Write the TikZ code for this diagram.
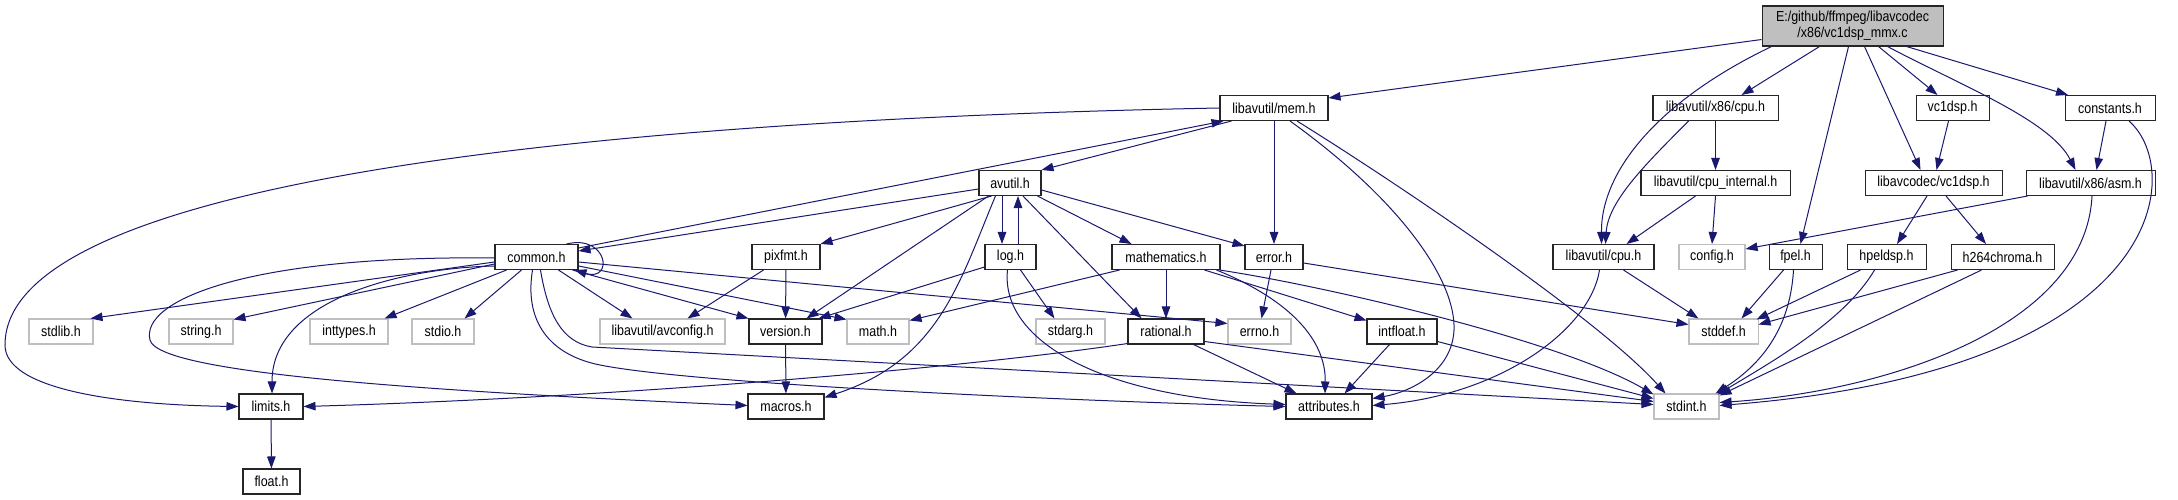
\documentclass[tikz,border=0pt]{standalone}
\usepackage{fontspec}
\setmainfont{Liberation Sans}[FakeStretch=0.86]
\usetikzlibrary{arrows.meta,calc}
\definecolor{edgeblue}{RGB}{25,25,112}
\definecolor{grayline}{RGB}{191,191,191}
\definecolor{rootfill}{RGB}{191,191,191}
\tikzset{
  box/.style={draw=black!85, fill=white, line width=1.05pt, minimum height=25pt, inner sep=0pt,
    font=\fontsize{14.5}{16}\selectfont},
  gbox/.style={box, draw=grayline},
  rootbox/.style={box, fill=rootfill, minimum height=40pt, align=center},
  dep/.style={draw=edgeblue, line width=1pt, -{Triangle[length=12pt,width=8.5pt]}}
}
\begin{document}
\begin{tikzpicture}[x=1pt,y=-1pt]
\fill[white] (0,0) rectangle (2178,500);
\useasboundingbox (0,0) rectangle (2178,500);
% row 0
\node[rootbox,minimum width=181] (root) at (1852.5,26) {E:/github/ffmpeg/libavcodec\\/x86/vc1dsp\_mmx.c};
% row 1
\node[box,minimum width=108] (mem) at (1274,108) {libavutil/mem.h};
\node[box,minimum width=125] (x86cpu) at (1715.5,108) {libavutil/x86/cpu.h};
\node[box,minimum width=73] (vcdsp) at (1952.5,108) {vc1dsp.h};
\node[box,minimum width=90] (constants) at (2110,108) {constants.h};
% row 2
\node[box,minimum width=62] (avutil) at (1010,183) {avutil.h};
\node[box,minimum width=149] (cpuint) at (1715.5,183) {libavutil/cpu\_internal.h};
\node[box,minimum width=137] (lavcvc) at (1933.5,183) {libavcodec/vc1dsp.h};
\node[box,minimum width=129] (asm) at (2090.5,183) {libavutil/x86/asm.h};
% row 3
\node[box,minimum width=83] (common) at (536.5,257) {common.h};
\node[box,minimum width=68] (pixfmt) at (786,257) {pixfmt.h};
\node[box,minimum width=51] (log) at (1010.5,257) {log.h};
\node[box,minimum width=108] (mathematics) at (1166,257) {mathematics.h};
\node[box,minimum width=58] (error) at (1274,257) {error.h};
\node[box,minimum width=101] (cpu) at (1603.5,257) {libavutil/cpu.h};
\node[gbox,minimum width=66] (config) at (1712,257) {config.h};
\node[box,minimum width=53] (fpel) at (1795.5,257) {fpel.h};
\node[box,minimum width=79] (hpeldsp) at (1886.5,257) {hpeldsp.h};
\node[box,minimum width=103] (h264) at (2002.5,257) {h264chroma.h};
% row 4
\node[gbox,minimum width=64] (stdlib) at (61,331.5) {stdlib.h};
\node[gbox,minimum width=64] (string) at (201,331.5) {string.h};
\node[gbox,minimum width=78] (inttypes) at (349,331.5) {inttypes.h};
\node[gbox,minimum width=62] (stdio) at (443,331.5) {stdio.h};
\node[gbox,minimum width=125] (avconfig) at (662.5,331.5) {libavutil/avconfig.h};
\node[box,minimum width=73] (version) at (785.5,331.5) {version.h};
\node[gbox,minimum width=62] (math) at (878,331.5) {math.h};
\node[gbox,minimum width=69] (stdarg) at (1070.5,331.5) {stdarg.h};
\node[box,minimum width=76] (rational) at (1166,331.5) {rational.h};
\node[gbox,minimum width=63] (errno) at (1259.5,331.5) {errno.h};
\node[box,minimum width=70] (intfloat) at (1402,331.5) {intfloat.h};
\node[gbox,minimum width=69] (stddef) at (1723.5,331.5) {stddef.h};
% row 5
\node[box,minimum width=64] (limits) at (271,406.5) {limits.h};
\node[box,minimum width=76] (macros) at (786,406.5) {macros.h};
\node[box,minimum width=86] (attributes) at (1329,406.5) {attributes.h};
\node[gbox,minimum width=65] (stdint) at (1686.5,406.5) {stdint.h};
% row 6
\node[box,minimum width=57] (float) at (271.5,481.5) {float.h};

% ---- edges from root
\draw[dep] ($(root.south west)+(0,-7)$) -- ($(mem.north east)+(0,3)$);
\draw[dep] ($(root.south west)+(10,0)$) .. controls (1660,100) and (1601,170) .. ($(cpu.north)+(-2,0)$);
\draw[dep] ($(root.south)+(-33,0)$) -- ($(x86cpu.north east)+(-37,0)$);
\draw[dep] ($(root.south)+(-4,0)$) -- ($(fpel.north)+(5,0)$);
\draw[dep] ($(root.south)+(12,0)$) -- ($(lavcvc.north)+(-13,0)$);
\draw[dep] ($(root.south)+(26,0)$) -- ($(vcdsp.north)+(-15,0)$);
\draw[dep] ($(root.south)+(35,0)$) .. controls (1960,85) and (2050,120) .. ($(asm.north)+(-15,0)$);
\draw[dep] ($(root.south)+(54,0)$) -- ($(constants.north)+(-42,0)$);
% ---- right part
\draw[dep] (x86cpu) -- (cpuint);
\draw[dep] ($(x86cpu.south)+(-27,0)$) .. controls (1650,160) and (1608,200) .. ($(cpu.north)+(2,0)$);
\draw[dep] ($(cpuint.south)+(-20,0)$) -- ($(cpu.north east)+(-28,0)$);
\draw[dep] (cpuint.south) -- (config.north);
\draw[dep] ($(vcdsp.south)+(-4,0)$) -- ($(lavcvc.north)+(3,0)$);
\draw[dep] ($(constants.south)+(-4,0)$) -- ($(asm.north)+(6,0)$);
\draw[dep] ($(constants.south)+(19,0)$) .. controls (2185,170) and (2170,370) .. ($(stdint.east)+(0,-1)$);
\draw[dep] ($(asm.south west)+(2,0)$) -- ($(config.east)+(0,-8)$);
\draw[dep] ($(asm.south)+(1.5,0)$) .. controls (2085,330) and (1880,392) .. ($(stdint.east)+(0,-4)$);
\draw[dep] ($(lavcvc.south)+(-6.5,0)$) -- ($(hpeldsp.north)+(10.5,0)$);
\draw[dep] ($(lavcvc.south)+(12.5,0)$) -- ($(h264.north)+(-16.5,0)$);
\draw[dep] ($(cpu.south)+(20,0)$) -- ($(stddef.north west)+(10,0)$);
\draw[dep] ($(cpu.south)+(-4,0)$) .. controls (1590,330) and (1500,395) .. ($(attributes.east)+(0,-1)$);
\draw[dep] ($(fpel.south)+(-12,0)$) -- ($(stddef.north east)+(-17,0)$);
\draw[dep] ($(fpel.south)+(-2,0)$) .. controls (1790,330) and (1760,365) .. ($(stdint.north east)+(-4,0)$);
\draw[dep] ($(hpeldsp.south)+(-26,0)$) -- ($(stddef.north east)+(-2,1)$);
\draw[dep] ($(hpeldsp.south)+(-12,0)$) .. controls (1845,320) and (1775,360) .. ($(stdint.north east)+(-2,1)$);
\draw[dep] ($(h264.south west)+(7,0)$) -- ($(stddef.east)+(0,-7)$);
\draw[dep] ($(h264.south)+(-21,0)$) -- ($(stdint.north east)+(0,2)$);
% ---- mem
\draw[dep] ($(mem.south west)+(12,0)$) -- (avutil.north east);
\draw[dep] (mem) -- (error);
\draw[dep] ($(mem.south)+(16,0)$) .. controls (1400,200) and (1456,280) .. (1454,330) .. controls (1452,372) and (1410,392) .. ($(attributes.east)+(0,-8)$);
\draw[dep] ($(mem.south)+(23,0)$) .. controls (1400,185) and (1600,320) .. ($(stdint.north west)+(12,0)$);
\draw[dep] (mem.west) .. controls (600,120) and (5,180) .. (5,345) .. controls (5,390) and (120,405) .. (limits.west);
% ---- common
\draw[dep] ($(common.east)+(0,-9)$) -- ($(mem.south west)+(4,0)$);
\draw[dep] ($(avutil.west)+(0,6)$) -- ($(common.east)+(0,-6)$);
\draw[dep] ($(common.north east)+(-12,0)$) .. controls (608,234) and (614,282) .. ($(common.south east)+(-4,0)$);
\draw[dep] ($(common.west)+(0,5)$) -- ($(stdlib.north east)+(-3,0)$);
\draw[dep] ($(common.west)+(0,7)$) -- ($(string.north east)+(0,1)$);
\draw[dep] ($(common.west)+(0,9)$) .. controls (400,268) and (272,300) .. ($(limits.north)+(1,0)$);
\draw[dep] ($(common.west)+(0,1)$) .. controls (250,255) and (140,300) .. (150,340) .. controls (158,372) and (400,390) .. ($(macros.west)+(0,-1)$);
\draw[dep] ($(common.south west)+(12,0)$) -- ($(inttypes.north east)+(-4,0)$);
\draw[dep] ($(common.south west)+(27,0)$) -- ($(stdio.north east)+(-10,0)$);
\draw[dep] ($(common.south)+(22,0)$) -- ($(avconfig.north west)+(33,0)$);
\draw[dep] ($(common.south east)+(-6,0)$) -- (version.north west);
\draw[dep] ($(common.east)+(0,9)$) -- ($(math.north west)+(0,1)$);
\draw[dep] ($(common.east)+(0,5)$) -- ($(errno.west)+(0,-8)$);
\draw[dep] ($(common.south)+(4,0)$) .. controls (548,315) and (562,342) .. (592,347) -- ($(stdint.west)+(0,-2)$);
\draw[dep] ($(common.south)+(-4,0)$) .. controls (524,322) and (550,355) .. (600,365) .. controls (700,385) and (1100,402) .. (attributes.west);
% ---- avutil
\draw[dep] ($(avutil.south west)+(13,0)$) -- (pixfmt.north east);
\draw[dep] ($(avutil.south west)+(10,0)$) -- ($(version.north east)+(-16,0)$);
\draw[dep] ($(avutil.south west)+(17,0)$) .. controls (960,280) and (940,360) .. ($(macros.north east)+(0,4)$);
\draw[dep] ($(avutil.south)+(-8,0)$) -- ($(log.north)+(-8.5,0)$);
\draw[dep] ($(log.north)+(7.5,0)$) -- ($(avutil.south)+(8,0)$);
\draw[dep] ($(avutil.south)+(13,0)$) -- ($(rational.north west)+(14,0)$);
\draw[dep] ($(avutil.south east)+(-4,0)$) -- ($(mathematics.north west)+(20,0)$);
\draw[dep] ($(avutil.east)+(0,7)$) -- ($(error.north west)+(0,2)$);
% ---- others
\draw[dep] (pixfmt) -- (version);
\draw[dep] ($(pixfmt.south west)+(12,0)$) -- ($(avconfig.north east)+(-38,0)$);
\draw[dep] ($(log.west)+(0,10)$) -- ($(version.north east)+(-4,0)$);
\draw[dep] ($(log.south)+(10,0)$) -- ($(stdarg.north west)+(19,0)$);
\draw[dep] ($(log.south)+(-3,0)$) .. controls (1000,340) and (1100,398) .. ($(attributes.west)+(0,-2)$);
\draw[dep] ($(mathematics.south west)+(8,0)$) -- ($(math.north east)+(0,2)$);
\draw[dep] (mathematics) -- (rational);
\draw[dep] ($(mathematics.south east)+(-4,0)$) .. controls (1290,300) and (1326,340) .. ($(attributes.north)+(-4,0)$);
\draw[dep] ($(mathematics.south east)+(-16,0)$) -- ($(intfloat.north west)+(0,2)$);
\draw[dep] ($(mathematics.south east)+(-1,0)$) .. controls (1320,285) and (1560,340) .. ($(stdint.north west)+(0,1)$);
\draw[dep] ($(error.south)+(-3,0)$) -- ($(errno.north)+(2,0)$);
\draw[dep] ($(error.east)+(0,6)$) -- ($(stddef.west)+(0,-7)$);
\draw[dep] ($(rational.south east)+(-11,0)$) -- ($(attributes.north west)+(11,0)$);
\draw[dep] ($(rational.east)+(0,10)$) -- ($(stdint.west)+(0,-5)$);
\draw[dep] ($(rational.south west)+(0,-1)$) .. controls (950,370) and (600,398) .. (limits.east);
\draw[dep] ($(intfloat.south west)+(23,0)$) -- ($(attributes.north east)+(-28,0)$);
\draw[dep] ($(intfloat.east)+(0,10)$) -- ($(stdint.west)+(0,-8)$);
\draw[dep] (version) -- (macros);
\draw[dep] (limits) -- (float);
\end{tikzpicture}
\end{document}
